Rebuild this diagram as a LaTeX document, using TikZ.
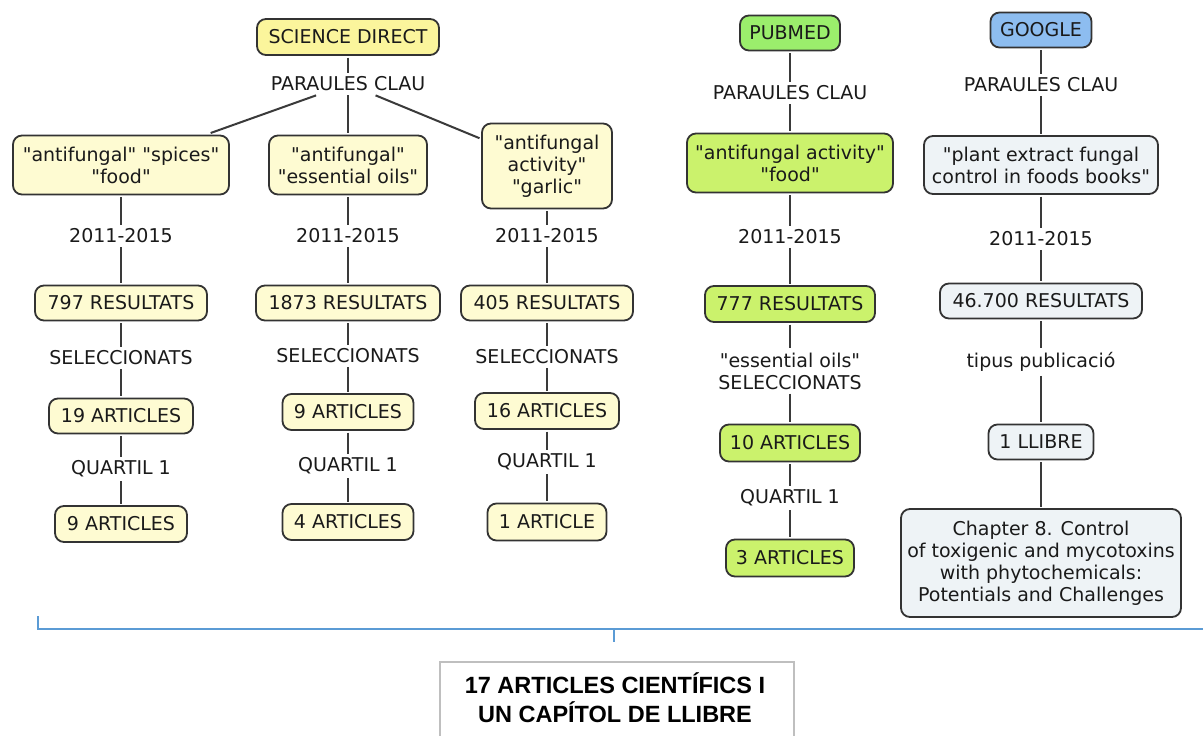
\documentclass[tikz,border=0pt]{standalone}
\usepackage{fontspec}
\newfontfamily\vfont{DejaVu Sans}
\newfontfamily\afont{Liberation Sans}
\definecolor{bdr}{HTML}{333333}
\definecolor{lnc}{HTML}{3A3A3A}
\definecolor{txt}{HTML}{1A1A1A}
\definecolor{ysd}{HTML}{FBF59C}
\definecolor{ylt}{HTML}{FEFBD2}
\definecolor{gpm}{HTML}{9BEE6C}
\definecolor{glt}{HTML}{CBF26C}
\definecolor{bgg}{HTML}{8DBDF0}
\definecolor{bglt}{HTML}{EEF3F6}
\definecolor{blu}{HTML}{5B9BD5}
\definecolor{gbox}{HTML}{BFBFBF}
\begin{document}
\begin{tikzpicture}[x=1pt,y=-1pt,
  base/.style={font=\vfont\fontsize{19}{22}\selectfont, text=txt, align=center},
  box/.style={base, draw=bdr, line width=1.8pt, rounded corners=9pt, inner sep=2pt, outer sep=2.5pt},
  lbl/.style={base, inner sep=4pt},
  conn/.style={draw=lnc, line width=2pt},
  bracketline/.style={draw=blu, line width=1.3pt}]
\useasboundingbox[fill=white] (0,0) rectangle (1203,736);

% SCIENCE DIRECT
\node[box, fill=ysd, minimum width=182, minimum height=36] (sd) at (348,37) {SCIENCE DIRECT};
\node[lbl] (pc1) at (348,84) {PARAULES CLAU};
\node[box, fill=ylt, minimum width=216, minimum height=59] (a1) at (121,165) {"antifungal" "spices"\\"food"};
\node[box, fill=ylt, minimum width=158, minimum height=59] (a2) at (348,165) {"antifungal"\\"essential oils"};
\node[box, fill=ylt, minimum width=130, minimum height=85] (a3) at (547,166) {"antifungal\\activity"\\"garlic"};
\node[lbl] (y1) at (121,236) {2011-2015};
\node[lbl] (y2) at (348,236) {2011-2015};
\node[lbl] (y3) at (547,236) {2011-2015};
\node[box, fill=ylt, minimum width=172, minimum height=35] (r1) at (121,303) {797 RESULTATS};
\node[box, fill=ylt, minimum width=184, minimum height=35] (r2) at (348,303) {1873 RESULTATS};
\node[box, fill=ylt, minimum width=172, minimum height=35] (r3) at (547,303) {405 RESULTATS};
\node[lbl] (s1) at (121,358) {SELECCIONATS};
\node[lbl] (s2) at (348,356) {SELECCIONATS};
\node[lbl] (s3) at (547,357) {SELECCIONATS};
\node[box, fill=ylt, minimum width=144, minimum height=35] (b1) at (121,416) {19 ARTICLES};
\node[box, fill=ylt, minimum width=131, minimum height=36] (b2) at (348,412) {9 ARTICLES};
\node[box, fill=ylt, minimum width=144, minimum height=36] (b3) at (547,411) {16 ARTICLES};
\node[lbl] (q1) at (121,469) {QUARTIL 1};
\node[lbl] (q2) at (348,466) {QUARTIL 1};
\node[lbl] (q3) at (547,462) {QUARTIL 1};
\node[box, fill=ylt, minimum width=132, minimum height=36] (c1) at (121,524) {9 ARTICLES};
\node[box, fill=ylt, minimum width=131, minimum height=36] (c2) at (348,522) {4 ARTICLES};
\node[box, fill=ylt, minimum width=119, minimum height=37] (c3) at (547,522) {1 ARTICLE};

% PUBMED
\node[box, fill=gpm, minimum width=100, minimum height=35] (pm) at (790,33) {PUBMED};
\node[lbl] (pc2) at (790,93) {PARAULES CLAU};
\node[box, fill=glt, minimum width=206, minimum height=59] (p1) at (790,163) {"antifungal activity"\\"food"};
\node[lbl] (py) at (790,237) {2011-2015};
\node[box, fill=glt, minimum width=170, minimum height=36] (pr) at (790,304) {777 RESULTATS};
\node[lbl] (ps) at (790,371) {"essential oils"\\SELECCIONATS};
\node[box, fill=glt, minimum width=140, minimum height=37] (pb) at (790,443) {10 ARTICLES};
\node[lbl] (pq) at (790,498) {QUARTIL 1};
\node[box, fill=glt, minimum width=128, minimum height=37] (pc) at (790,558) {3 ARTICLES};

% GOOGLE
\node[box, fill=bgg, minimum width=101, minimum height=35] (gg) at (1041,30) {GOOGLE};
\node[lbl] (pc3) at (1041,85) {PARAULES CLAU};
\node[box, fill=bglt, minimum width=234, minimum height=58] (g1) at (1041,165) {"plant extract fungal\\control in foods books"};
\node[lbl] (gy) at (1041,239) {2011-2015};
\node[box, fill=bglt, minimum width=202, minimum height=35] (gr) at (1041,301) {46.700 RESULTATS};
\node[lbl] (gt) at (1041,362) {tipus publicació};
\node[box, fill=bglt, minimum width=105, minimum height=35] (gl) at (1041,442) {1 LLIBRE};
\node[box, fill=bglt, minimum width=280, minimum height=108] (gch) at (1041,563) {Chapter 8. Control\\of toxigenic and mycotoxins\\with phytochemicals:\\Potentials and Challenges};

% connectors
\foreach \u/\v in {sd/pc1, pc1/a1, pc1/a2, pc1/a3,
  a1/y1, y1/r1, r1/s1, s1/b1, b1/q1, q1/c1,
  a2/y2, y2/r2, r2/s2, s2/b2, b2/q2, q2/c2,
  a3/y3, y3/r3, r3/s3, s3/b3, b3/q3, q3/c3,
  pm/pc2, pc2/p1, p1/py, py/pr, pr/ps, ps/pb, pb/pq, pq/pc,
  gg/pc3, pc3/g1, g1/gy, gy/gr, gr/gt, gt/gl, gl/gch}
  \draw[conn] (\u) -- (\v);

% bracket
\coordinate (brl) at (38,616);
\coordinate (brc) at (38,629);
\coordinate (brr) at (1203,629);
\coordinate (brm) at (614,629);
\coordinate (brt) at (614,642);
\draw[bracketline] (brl) -- (brc) -- (brr);
\draw[bracketline] (brm) -- (brt);

% total box
\node[draw=gbox, line width=1.5pt, minimum width=354, minimum height=110, anchor=north] (tot) at (617,661) {};
\node[font=\afont\bfseries\fontsize{23.5}{29}\selectfont, align=center, inner sep=0pt] (tottext) at (615,697.5) {17 ARTICLES CIENTÍFICS I\\UN CAPÍTOL DE LLIBRE};
\end{tikzpicture}
\end{document}
